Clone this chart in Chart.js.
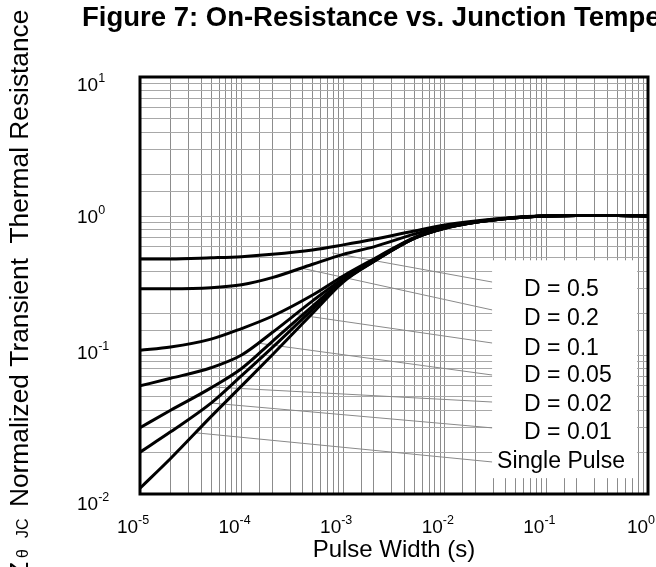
<!DOCTYPE html>
<html><head><meta charset="utf-8">
<script src="https://cdn.jsdelivr.net/npm/chart.js@4.4.1/dist/chart.umd.min.js"></script>
<style>html,body{margin:0;padding:0;background:#fff;overflow:hidden}</style>
</head><body>
<canvas id="c" width="656" height="567"></canvas>
<script>
// ---- data ----
const pulseWidth = [1e-5, 2e-5, 5e-5, 1e-4, 2e-4, 5e-4, 1e-3, 2e-3, 5e-3, 1e-2, 2e-2, 5e-2, 0.1, 0.2, 0.5, 1];
const seriesNames = ['D = 0.5', 'D = 0.2', 'D = 0.1', 'D = 0.05', 'D = 0.02', 'D = 0.01', 'Single Pulse'];
const zD05    = [0.49, 0.49, 0.50, 0.51, 0.53, 0.57, 0.62, 0.68, 0.78, 0.86, 0.92, 0.98, 1.00, 1.01, 1.01, 1.00];
const zD02    = [0.30, 0.30, 0.305, 0.32, 0.36, 0.45, 0.53, 0.60, 0.74, 0.84, 0.91, 0.975, 1.00, 1.01, 1.01, 1.00];
const zD01    = [0.108, 0.114, 0.13, 0.155, 0.19, 0.27, 0.37, 0.49, 0.70, 0.825, 0.905, 0.97, 1.00, 1.01, 1.01, 1.00];
const zD005   = [0.060, 0.068, 0.081, 0.10, 0.145, 0.245, 0.355, 0.48, 0.695, 0.82, 0.90, 0.97, 1.00, 1.01, 1.01, 1.00];
const zD002   = [0.030, 0.040, 0.058, 0.080, 0.125, 0.225, 0.345, 0.475, 0.69, 0.818, 0.90, 0.97, 1.00, 1.01, 1.01, 1.00];
const zD001   = [0.020, 0.028, 0.045, 0.071, 0.113, 0.213, 0.34, 0.47, 0.69, 0.815, 0.90, 0.97, 1.00, 1.01, 1.01, 1.00];
const zSingle = [0.011, 0.018, 0.036, 0.060, 0.10, 0.20, 0.335, 0.47, 0.69, 0.815, 0.90, 0.97, 1.00, 1.01, 1.01, 1.00];
// leader lines (curve point -> label)
const leaderStartX = [7.8e-4, 3.8e-4, 2.8e-4, 1.42e-4, 5.1e-5, 4.9e-5, 3.64e-5];
const leaderStartY = [0.542, 0.423, 0.200, 0.122, 0.0589, 0.0452, 0.0275];
const leaderEndX   = [0.0292, 0.0292, 0.0292, 0.0292, 0.0292, 0.0292, 0.0292];
const leaderEndY   = [0.335, 0.211, 0.122, 0.0718, 0.0459, 0.0299, 0.0170];
// tick labels (base 10 with these exponents)
const tickBase    = '10';
const xTickExps   = [-5, -4, -3, -2, -1, 0];
const xTickLabels = ['-5', '-4', '-3', '-2', '-1', '0'];
const yTickExps   = [-2, -1, 0, 1];
const yTickLabels = ['-2', '-1', '0', '1'];
const titleText  = 'Figure 7: On-Resistance vs. Junction Temperature';
const xAxisTitle = 'Pulse Width (s)';
const yAxisTitle = 'Normalized Transient  Thermal Resistance';
const yAxisSymbol = ['Z', 'θ', 'JC'];

// ---- layout / style (not data) ----
const FONT = '"Liberation Sans", Arial, Helvetica, sans-serif';
const legendBox = {xMin: 0.0292, xMax: 0.78, yMin: 0.013, yMax: 0.48};
const labelAnchorX = [0.0603, 0.0603, 0.0603, 0.0603, 0.0603, 0.0603, 0.0327];
const labelAnchorY = [0.294, 0.1815, 0.112, 0.0706, 0.0436, 0.0275, 0.01714];
const yLabelNudge = [11, -1, 2, 9];   // vertical offsets of y tick labels (px)

const allSeries = [zD05, zD02, zD01, zD005, zD002, zD001, zSingle];

const datasets = [];
allSeries.forEach((s, k) => {
  datasets.push({
    label: seriesNames[k],
    data: s.map((v, i) => ({x: pulseWidth[i], y: v})),
    borderColor: '#000', borderWidth: 3, pointRadius: 0, fill: false,
    cubicInterpolationMode: 'monotone', order: 0
  });
});
seriesNames.forEach((n, k) => {
  datasets.push({
    label: 'leader ' + n,
    data: [{x: leaderStartX[k], y: leaderStartY[k]}, {x: leaderEndX[k], y: leaderEndY[k]}],
    borderColor: '#8a8a8a', borderWidth: 1, pointRadius: 0, fill: false, order: 5
  });
});

function drawPow(ctx, exp, left, cy) {
  ctx.textAlign = 'left'; ctx.textBaseline = 'middle';
  ctx.font = '19px ' + FONT;
  const w = ctx.measureText(tickBase).width;
  ctx.fillText(tickBase, left, cy);
  ctx.font = '12.5px ' + FONT;
  ctx.fillText(exp, left + w, cy - 7);
}
function powWidth(ctx, exp) {
  ctx.font = '19px ' + FONT; const a = ctx.measureText(tickBase).width;
  ctx.font = '12.5px ' + FONT; return a + ctx.measureText(exp).width;
}

const decor = {
  id: 'decor',
  beforeDatasetsDraw(chart) {
    const {ctx, scales: {x, y}} = chart;
    const l = x.getPixelForValue(legendBox.xMin), r = x.getPixelForValue(legendBox.xMax);
    const t = y.getPixelForValue(legendBox.yMax), b = y.getPixelForValue(legendBox.yMin);
    ctx.save(); ctx.fillStyle = '#fff'; ctx.fillRect(l, t, r - l, b - t); ctx.restore();
  },
  afterDraw(chart) {
    const {ctx, chartArea: a, scales: {x, y}} = chart;
    ctx.save();
    ctx.strokeStyle = '#000'; ctx.lineWidth = 3;
    ctx.strokeRect(a.left, a.top, a.right - a.left, a.bottom - a.top);
    ctx.fillStyle = '#000';
    // tick labels
    xTickExps.forEach((e, i) => {
      const px = x.getPixelForValue(Math.pow(10, e));
      const w = powWidth(ctx, xTickLabels[i]);
      drawPow(ctx, xTickLabels[i], px - w / 2 - 7, a.bottom + 34);
    });
    yTickExps.forEach((e, i) => {
      const py = y.getPixelForValue(Math.pow(10, e));
      drawPow(ctx, yTickLabels[i], 77, py + yLabelNudge[i]);
    });
    // series labels
    ctx.textAlign = 'left'; ctx.textBaseline = 'middle';
    ctx.font = '23px ' + FONT;
    seriesNames.forEach((n, k) => {
      ctx.fillText(n, x.getPixelForValue(labelAnchorX[k]), y.getPixelForValue(labelAnchorY[k]));
    });
    // title
    ctx.textBaseline = 'alphabetic';
    ctx.font = 'bold 27.5px ' + FONT;
    ctx.fillText(titleText, 82, 26);
    // y axis title (rotated)
    ctx.translate(28, 0); ctx.rotate(-Math.PI / 2);
    ctx.font = '26.3px ' + FONT;
    ctx.fillText(yAxisTitle, -507, 0);
    ctx.font = '16px ' + FONT;
    ctx.fillText(yAxisSymbol[2], -538, 0);
    ctx.fillText(yAxisSymbol[1], -558, 0);
    ctx.font = '26.3px ' + FONT;
    ctx.fillText(yAxisSymbol[0], -578, 0);
    ctx.restore();
  }
};

new Chart(document.getElementById('c'), {
  type: 'line',
  data: {datasets},
  plugins: [decor],
  options: {
    responsive: false, animation: false, devicePixelRatio: 1,
    layout: {padding: {left: 77, top: 77, right: 8, bottom: 0}},
    plugins: {legend: {display: false}, tooltip: {enabled: false}, title: {display: false}},
    elements: {point: {radius: 0}},
    scales: {
      x: {
        type: 'logarithmic', position: 'bottom', min: 1e-5, max: 1,
        grid: {color: '#8c8c8c', lineWidth: 1, drawTicks: false},
        border: {display: false},
        ticks: {display: false, autoSkip: false},
        title: {display: true, text: xAxisTitle, color: '#000', font: {family: FONT, size: 24}, padding: {top: 0, bottom: 2}},
        afterFit(s) { s.height = 73; s.paddingLeft = 0; s.paddingRight = 0; }
      },
      y: {
        type: 'logarithmic', position: 'left', min: 0.01, max: 10,
        grid: {color: '#a8a8a8', lineWidth: 1, drawTicks: false},
        border: {display: false},
        ticks: {display: false, autoSkip: false},
        afterFit(s) { s.width = 63; s.paddingTop = 0; s.paddingBottom = 0; }
      }
    }
  }
});
</script>
</body></html>
